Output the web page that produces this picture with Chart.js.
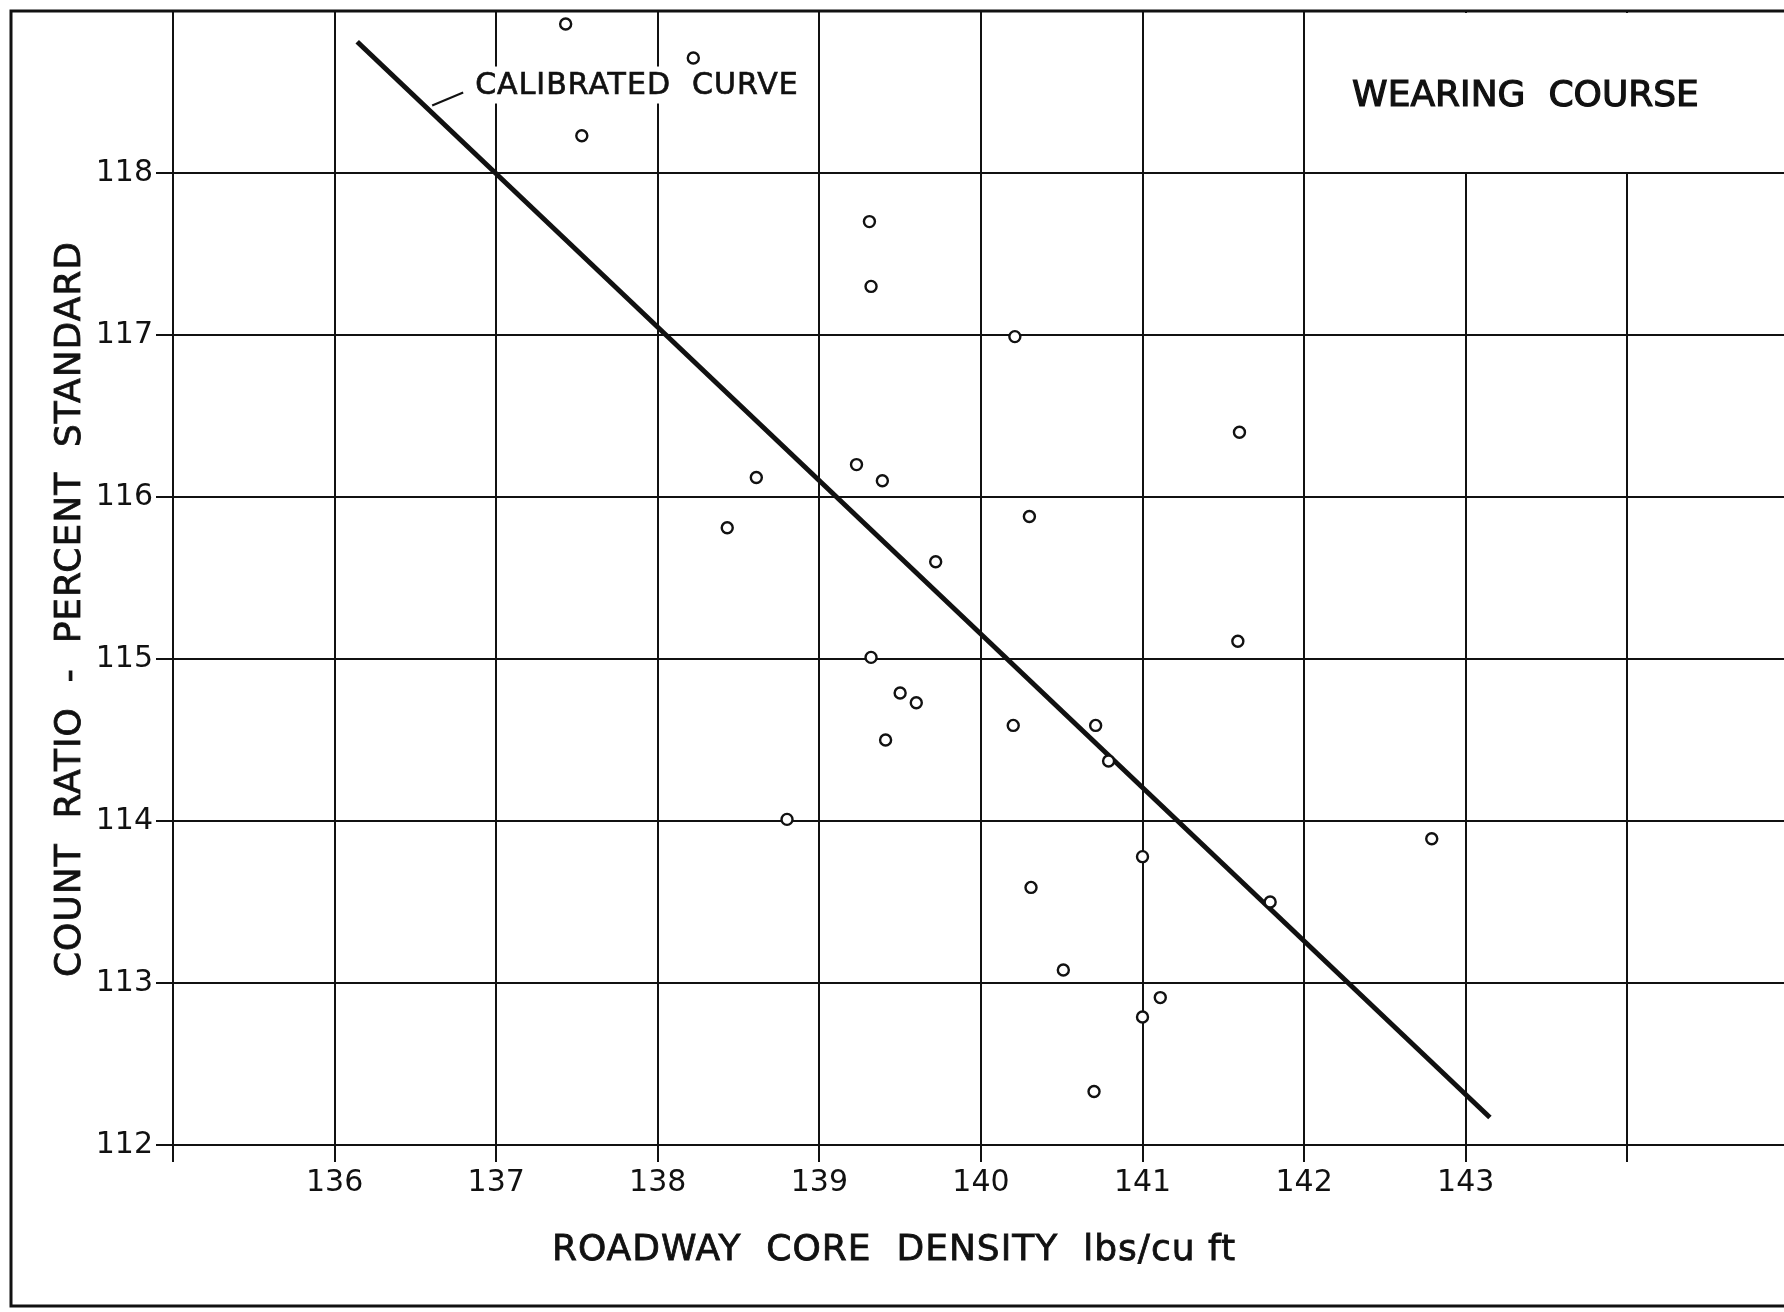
<!DOCTYPE html>
<html>
<head>
<meta charset="utf-8">
<title>Wearing course - count ratio vs core density</title>
<script src="https://cdn.jsdelivr.net/npm/chart.js@4.4.1/dist/chart.umd.min.js"></script>
<style>
  html, body { margin: 0; padding: 0; background: #fff; overflow: hidden; }
  #wrap { width: 1784px; height: 1312px; }
</style>
</head>
<body>
<div id="wrap"><canvas id="core-density-chart"></canvas></div>
<script>
// roadway core density (lbs/cu ft) vs count ratio (% standard)
const densities = [137.43, 138.22, 137.53, 139.31, 139.32, 140.21, 141.60, 138.61, 139.23, 139.39,
    138.43, 140.30, 139.72, 141.59, 139.32, 139.50, 139.60, 140.20, 140.71, 139.41,
    140.79, 138.80, 142.79, 141.00, 140.31, 141.79, 140.51, 141.11, 141.00, 140.70];
const countRatios = [118.92, 118.71, 118.23, 117.70, 117.30, 116.99, 116.40, 116.12, 116.20, 116.10,
    115.81, 115.88, 115.60, 115.11, 115.01, 114.79, 114.73, 114.59, 114.59, 114.50,
    114.37, 114.01, 113.89, 113.78, 113.59, 113.50, 113.08, 112.91, 112.79, 112.33];

// calibrated curve, two end points
const curveDensity = [136.14, 143.15];
const curveRatio = [118.81, 112.17];

const xTicks = [135, 136, 137, 138, 139, 140, 141, 142, 143, 144];
const xTickLabels = ['', '136', '137', '138', '139', '140', '141', '142', '143', ''];
const yTicks = [112, 113, 114, 115, 116, 117, 118, 119];
const yTickLabels = ['112', '113', '114', '115', '116', '117', '118', ''];

const INK = '#111';
const FONT = '"DejaVu Sans", sans-serif';

// fill + thin stroke, closer to the pen lettering
function inkText(ctx, text, x, y) {
    ctx.fillText(text, x, y);
    ctx.strokeText(text, x, y);
}

// labels, frame and the white box behind the title
const inkPlugin = {
    id: 'ink',
    beforeDatasetsDraw(chart) {
        const { ctx, chartArea, scales: { x, y } } = chart;
        ctx.save();
        ctx.fillStyle = '#fff';
        const boxLeft = x.getPixelForValue(142) + 2;
        ctx.fillRect(boxLeft, chartArea.top + 2, chartArea.right - boxLeft, y.getPixelForValue(118) - chartArea.top - 3);

        ctx.font = '30px ' + FONT;
        ctx.letterSpacing = '1px';
        ctx.textBaseline = 'middle';
        ctx.strokeStyle = INK;
        ctx.lineWidth = 0.7;
        const label = 'CALIBRATED  CURVE';
        const lx = x.getPixelForValue(136.87);
        const ly = y.getPixelForValue(118.54);
        const w = ctx.measureText(label).width;
        ctx.fillRect(lx - 4, ly - 19, w + 8, 37);
        ctx.fillStyle = INK;
        inkText(ctx, label, lx, ly + 1);
        ctx.lineWidth = 2;
        ctx.beginPath();
        ctx.moveTo(lx - 43, ly + 20);
        ctx.lineTo(lx - 12, ly + 7);
        ctx.stroke();

        ctx.font = '36px ' + FONT;
        ctx.letterSpacing = '0px';
        ctx.lineWidth = 1.2;
        ctx.textAlign = 'center';
        inkText(ctx, 'WEARING  COURSE', x.getPixelForValue(143.37), y.getPixelForValue(118.47));
        ctx.restore();
    },
    afterDraw(chart) {
        const { ctx, width } = chart;
        ctx.save();
        ctx.fillStyle = INK;
        ctx.strokeStyle = INK;
        ctx.lineWidth = 0.8;
        ctx.font = '36px ' + FONT;
        ctx.letterSpacing = '1px';
        ctx.textAlign = 'center';
        ctx.textBaseline = 'middle';
        inkText(ctx, 'ROADWAY  CORE  DENSITY  lbs/cu ft', 894, 1251);
        ctx.translate(71, 609);
        ctx.rotate(-Math.PI / 2);
        inkText(ctx, 'COUNT  RATIO  -  PERCENT  STANDARD', 0, 0);
        ctx.restore();

        ctx.save();
        ctx.strokeStyle = INK;
        ctx.lineWidth = 3;
        ctx.strokeRect(11, 11, width, 1295);
        ctx.restore();
    }
};

const ctx = document.getElementById('core-density-chart').getContext('2d');
new Chart(ctx, {
    type: 'scatter',
    data: {
        datasets: [
            {
                label: 'Cores',
                data: densities.map((d, i) => ({ x: d, y: countRatios[i] })),
                pointRadius: 5.5,
                pointBorderWidth: 2.4,
                pointBackgroundColor: '#fff',
                pointBorderColor: INK,
                order: 0,
            },
            {
                label: 'Calibrated curve',
                data: curveDensity.map((d, i) => ({ x: d, y: curveRatio[i] })),
                showLine: true,
                borderColor: INK,
                borderWidth: 5,
                pointRadius: 0,
                order: 1,
            },
        ],
    },
    options: {
        responsive: true,
        maintainAspectRatio: false,
        devicePixelRatio: 1,
        animation: false,
        events: [],
        layout: { autoPadding: false, padding: { top: 11, right: 0, bottom: 0, left: 0 } },
        plugins: { legend: { display: false }, tooltip: { enabled: false } },
        scales: {
            x: {
                type: 'linear',
                min: 135,
                max: 144.97,
                afterBuildTicks: (s) => { s.ticks = xTicks.map((v) => ({ value: v })); },
                afterFit: (s) => {
                    s.height = 167;
                    s.paddingLeft = 0;
                    s.paddingRight = 0;
                },
                ticks: {
                    callback: (v, i) => xTickLabels[i],
                    color: INK,
                    font: { family: FONT, size: 30 },
                    padding: 3,
                    maxRotation: 0,
                    autoSkip: false,
                },
                grid: { color: INK, lineWidth: 2, tickLength: 17 },
                border: { color: INK, width: 2 },
            },
            y: {
                type: 'linear',
                min: 112,
                max: 119,
                afterBuildTicks: (s) => { s.ticks = yTicks.map((v) => ({ value: v })); },
                afterFit: (s) => {
                    s.width = 173;
                    s.paddingTop = 0;
                    s.paddingBottom = 0;
                },
                ticks: {
                    callback: (v, i) => yTickLabels[i],
                    color: INK,
                    font: { family: FONT, size: 30 },
                    padding: 3,
                    autoSkip: false,
                },
                grid: { color: INK, lineWidth: 2, tickLength: 17 },
                border: { color: INK, width: 2 },
            },
        },
    },
    plugins: [inkPlugin],
});
</script>
</body>
</html>
